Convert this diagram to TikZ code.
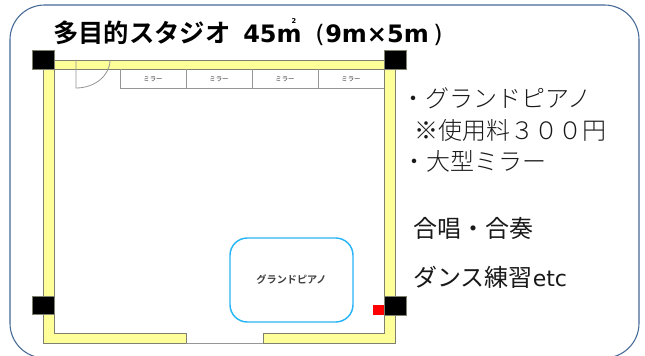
\documentclass[tikz,border=0pt]{standalone}
\usepackage{fontspec}
\setmainfont{Noto Sans CJK JP}
\newfontfamily\cjkb{Noto Sans CJK JP Bold}
\newfontfamily\cjkl{Noto Sans CJK JP Light}
\newfontfamily\latb{DejaVu Sans Bold}
\newfontfamily\latr{DejaVu Sans}
\tikzset{
 x=0.75pt,y=-0.75pt,
 wall/.style={fill=wallyellow,draw=wallgrey,line width=0.6pt},
 post/.style={fill=black,draw=wallgrey,line width=0.3pt},
 thin line/.style={draw=linegrey,line width=0.6pt},
 mirrortext/.style={font=\fontsize{4.8}{5}\selectfont,text=black!80,inner sep=0pt},
 infotext/.style={anchor=west,inner sep=0pt,text=black!90,font=\fontsize{18}{20}\selectfont},
 infolight/.style={infotext,font=\cjkl\fontsize{18}{20}\selectfont},
 titlecjk/.style={anchor=base west,inner sep=0pt,font=\cjkb\fontsize{19}{22}\selectfont},
 titlelat/.style={anchor=base west,inner sep=0pt,font=\latb\fontsize{18}{22}\selectfont},
}
\definecolor{wallyellow}{RGB}{255,255,153}
\definecolor{wallgrey}{RGB}{128,128,110}
\definecolor{linegrey}{RGB}{150,150,150}
\definecolor{framecol}{RGB}{68,104,150}
\definecolor{pianocol}{RGB}{41,182,246}
\begin{document}
\begin{tikzpicture}
\useasboundingbox (0,0) rectangle (645,356);
\clip (0,0) rectangle (645,356);
\fill[white] (0,0) rectangle (645,356);
\draw[framecol,line width=0.8pt,rounded corners=26pt] (10,5) rectangle (639,358);
% walls
\draw[wall] (54,60) rectangle (385,69);
\draw[wall] (43,69) -- (54,69) -- (54,333) -- (186,333) -- (186,343) -- (43,343) -- cycle;
\draw[wall] (384,69) -- (395,69) -- (395,343) -- (263,343) -- (263,333) -- (384,333) -- cycle;
\draw[thin line] (186,343) -- (263,343);
% door
\draw[thin line] (76,60) -- (76,88) arc[start angle=270,end angle=360,x radius=34,y radius=-28];
% mirrors
\draw[thin line] (120,69) -- (120,88) -- (384,88);
\foreach \mx in {186,252,318} \draw[thin line] (\mx,69) -- (\mx,88);
\node[mirrortext] (m1) at (153,79) {ミラー};
\node[mirrortext] (m2) at (219,79) {ミラー};
\node[mirrortext] (m3) at (285,79) {ミラー};
\node[mirrortext] (m4) at (351,79) {ミラー};
% posts
\draw[post] (32,50) rectangle (54,69);
\draw[post] (384,50) rectangle (406,69);
\draw[post] (32,296) rectangle (54,314);
\draw[post] (384,296) rectangle (406,315);
\fill[red] (373,305) rectangle (384,315);
% piano
\node[draw=pianocol,line width=1.1pt,rounded corners=13pt,minimum width=92.25pt,minimum height=63pt,inner sep=0pt,font=\cjkb\fontsize{7.6}{8}\selectfont,text=black!75] (piano) at (291.5,280) {グランドピアノ};
% title
\node[titlecjk] (title) at (53,42.5) {多目的スタジオ};
\node[titlelat] (area) at (243,42.5) {45m\rlap{\raisebox{0.78em}{\hspace{-0.42em}\fontsize{5}{5}\selectfont 2}}};
\node[titlelat,font=\latr\fontsize{18}{22}\selectfont] (po) at (315,42.5) {(};
\node[titlelat] (dim) at (325,42.5) {9m×5m};
\node[titlelat,font=\latr\fontsize{18}{22}\selectfont] (pc) at (433,42.5) {)};
% info
\node[infolight] (i1) at (401,98) {・グランドピアノ};
\node[infolight] (i2) at (414,130) {※使用料３００円};
\node[infolight] (i3) at (402,161) {・大型ミラー};
\node[infotext] (i4) at (413,228) {合唱・合奏};
\node[infotext] (i5) at (413,277) {ダンス練習{\latr\fontsize{16.5}{20}\selectfont etc}};
\end{tikzpicture}
\end{document}
